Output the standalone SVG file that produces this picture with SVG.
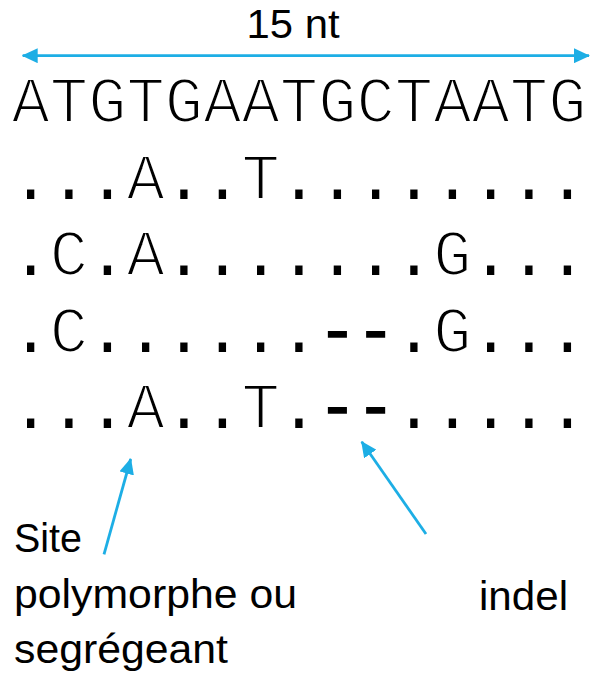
<svg xmlns="http://www.w3.org/2000/svg" width="591" height="676" viewBox="0 0 591 676">
  <style>
    .seq { font-family: "Courier New", "Liberation Mono", monospace; font-size: 64px; fill: #000; }
    .let { stroke: #fff; stroke-width: 2.2px; }
    .gap { stroke: #000; stroke-width: 1.6px; }
    .lbl { font-family: "Liberation Sans", Arial, sans-serif; font-size: 40px; fill: #000; }
    .arr { stroke: #1DAEE5; stroke-width: 2.8; fill: none; }
  </style>
  <defs>
    <marker id="head" viewBox="0 0 16 15" refX="15" refY="7.5" markerWidth="16" markerHeight="15" markerUnits="userSpaceOnUse" orient="auto-start-reverse">
      <path d="M0,0 L16,7.5 L0,15 Z" fill="#1DAEE5"/>
    </marker>
  </defs>
  <rect width="591" height="676" fill="#fff"/>

  <g id="length-label">
    <text class="lbl" x="246.5" y="37.7" textLength="93" lengthAdjust="spacingAndGlyphs">15 nt</text>
  </g>

  <g id="alignment">
    <text id="ref" class="seq let" x="11.5" y="122" textLength="575" lengthAdjust="spacingAndGlyphs">ATGTGAATGCTAATG</text>
    <text id="seq1" class="seq" x="11.5" y="198.5" textLength="575" lengthAdjust="spacingAndGlyphs">...<tspan class="let">A</tspan>..<tspan class="let">T</tspan>........</text>
    <text id="seq2" class="seq" x="11.5" y="275" textLength="575" lengthAdjust="spacingAndGlyphs">.<tspan class="let">C</tspan>.<tspan class="let">A</tspan>.......<tspan class="let">G</tspan>...</text>
    <text id="seq3" class="seq" x="11.5" y="351.5" textLength="575" lengthAdjust="spacingAndGlyphs">.<tspan class="let">C</tspan>......<tspan class="gap">--</tspan>.<tspan class="let">G</tspan>...</text>
    <text id="seq4" class="seq" x="11.5" y="428" textLength="575" lengthAdjust="spacingAndGlyphs">...<tspan class="let">A</tspan>..<tspan class="let">T</tspan>.<tspan class="gap">--</tspan>.....</text>
  </g>

  <g id="site-label">
    <text class="lbl" x="14" y="551.7" textLength="68" lengthAdjust="spacingAndGlyphs">Site</text>
    <text class="lbl" x="14" y="608.3" textLength="283" lengthAdjust="spacingAndGlyphs">polymorphe ou</text>
    <text class="lbl" x="14" y="663.3" textLength="214" lengthAdjust="spacingAndGlyphs">segrégeant</text>
  </g>

  <g id="indel-label">
    <text class="lbl" x="479" y="610" textLength="89" lengthAdjust="spacingAndGlyphs">indel</text>
  </g>

  <g id="connectors">
    <line class="arr" x1="22.7" y1="55.7" x2="589" y2="55.7" marker-start="url(#head)" marker-end="url(#head)"/>
    <line class="arr" x1="104" y1="554.3" x2="130.7" y2="459" marker-end="url(#head)"/>
    <line class="arr" x1="426" y1="534" x2="361.7" y2="441.7" marker-end="url(#head)"/>
  </g>
</svg>
